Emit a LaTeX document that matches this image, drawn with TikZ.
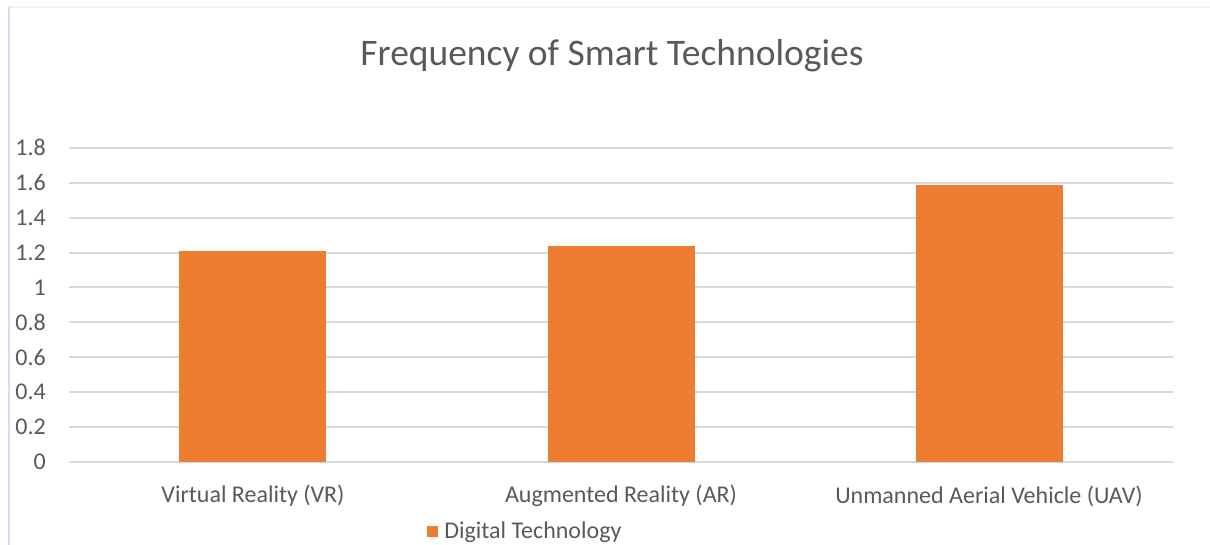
\documentclass[tikz,border=0pt]{standalone}
\usepackage{fontspec}
\setmainfont{Carlito}
\usepackage{xcolor}
\usetikzlibrary{positioning}

\definecolor{barorange}{HTML}{ED7D31}
\definecolor{gridgray}{HTML}{D9D9D9}
\definecolor{txtgray}{HTML}{595959}
\definecolor{frameblue}{HTML}{D3DDF0}
\definecolor{framefaint}{HTML}{F2F2F8}

\begin{document}
\begin{tikzpicture}[
  x=1pt, y=1pt,
  every node/.style={text=txtgray, inner sep=0pt},
  grid/.style={gridgray, line width=2pt},
  bar/.style={fill=barorange, draw=none},
  ticklabel/.style={font=\fontsize{24}{28}\selectfont, anchor=east},
  catlabel/.style={font=\fontsize{24}{28}\selectfont, anchor=center}
]
\useasboundingbox (0,0) rectangle (1210,545);

% ---- FRAME ----
\draw[framefaint, line width=1.5pt] (9,538) -- (1210,538);
\draw[frameblue, line width=2pt] (9,538) -- (9,0);

% ---- TITLE ----
\node[font=\fontsize{37.5}{44}\selectfont] (title) at (612,489)
  {Frequency of Smart Technologies};

% ---- GRIDLINES and y tick labels ----
\foreach \v/\lab in {0/0, 1/0.2, 2/0.4, 3/0.6, 4/0.8, 5/1, 6/1.2, 7/1.4, 8/1.6, 9/1.8}{
  \draw[grid] (69,83+34.9*\v) -- (1173,83+34.9*\v);
  \node[ticklabel] (tick\v) at (46,83+34.9*\v) {\lab};
}

% ---- BARS ----
\fill[bar] (179,83) rectangle (326,83+174.4*1.21);
\fill[bar] (548,83) rectangle (695,83+174.4*1.24);
\fill[bar] (916,83) rectangle (1063,83+174.4*1.59);

% ---- CATEGORY labels ----
\node[catlabel] (vr) at (253,49) {Virtual Reality (VR)};
\node[catlabel] (ar) at (621,49) {Augmented Reality (AR)};
\node[catlabel] (uav) at (989,49) {Unmanned Aerial Vehicle (UAV)};

% ---- LEGEND ----
\node[fill=barorange, minimum size=11pt] (key) at (432.5,13) {};
\node[font=\fontsize{24}{28}\selectfont, anchor=west, right=6pt of key]
  (keytext) {Digital Technology};

\end{tikzpicture}
\end{document}
